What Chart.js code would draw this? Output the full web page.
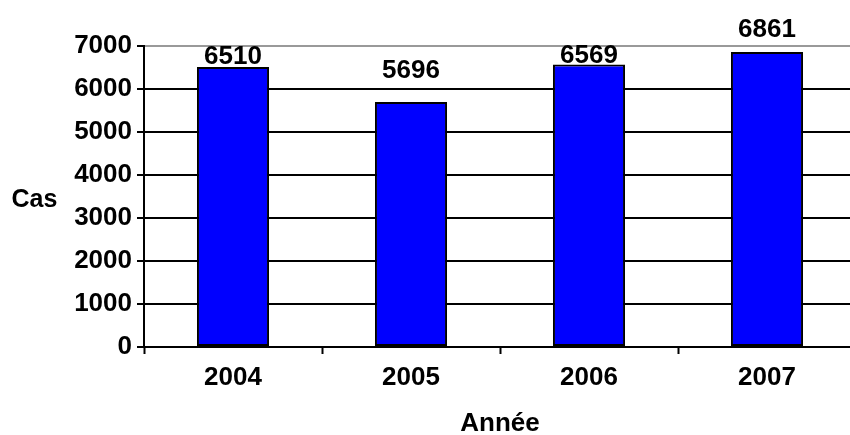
<!DOCTYPE html>
<html>
<head>
<meta charset="utf-8">
<script src="https://cdn.jsdelivr.net/npm/chart.js@4/dist/chart.umd.min.js"></script>
<style>
  html, body { margin: 0; padding: 0; background: #fff; overflow: hidden; }
  #wrap { width: 860px; height: 435px; }
</style>
</head>
<body>
<div id="wrap"><canvas id="chart" width="860" height="435"></canvas></div>
<script>
const years = ["2004", "2005", "2006", "2007"];
const cases = [6510, 5696, 6569, 6861];
const yTicks = [0, 1000, 2000, 3000, 4000, 5000, 6000, 7000];

// how far each value label sits above its bar, px
const labelGap = [3, 24, 2, 15];

const FONT = "'Liberation Sans', Arial, sans-serif";

const valueLabels = {
  id: "valueLabels",
  afterDatasetsDraw(chart) {
    const ctx = chart.ctx;
    const bars = chart.getDatasetMeta(0).data;
    ctx.save();
    ctx.font = "bold 26px " + FONT;
    ctx.fillStyle = "#000";
    ctx.textAlign = "center";
    ctx.textBaseline = "alphabetic";
    bars.forEach((bar, i) => {
      ctx.fillText(String(cases[i]), bar.x, bar.y - labelGap[i]);
    });
    ctx.restore();
  }
};

const sideTitle = {
  id: "sideTitle",
  afterDraw(chart) {
    const ctx = chart.ctx;
    ctx.save();
    ctx.font = "bold 25px " + FONT;
    ctx.fillStyle = "#000";
    ctx.textAlign = "center";
    ctx.textBaseline = "alphabetic";
    ctx.fillText("Cas", 34.5, 207);
    ctx.restore();
  }
};

new Chart(document.getElementById("chart"), {
  type: "bar",
  data: {
    labels: years,
    datasets: [{
      data: cases,
      backgroundColor: "#0000ff",
      borderColor: "#000",
      borderWidth: 2,
      borderSkipped: false,
      barPercentage: 0.405,
      categoryPercentage: 1
    }]
  },
  options: {
    responsive: false,
    animation: false,
    layout: { padding: { top: 46, right: 4, left: 0, bottom: 0 } },
    plugins: {
      legend: { display: false },
      tooltip: { enabled: false }
    },
    scales: {
      x: {
        offset: true,
        afterFit(scale) { scale.height = 88; },
        grid: {
          offset: true,
          drawOnChartArea: false,
          drawTicks: true,
          tickLength: 7,
          tickWidth: 2,
          tickColor: "#000"
        },
        border: { display: true, color: "#000", width: 2 },
        ticks: {
          color: "#000",
          padding: 8,
          font: { family: FONT, size: 26, weight: "bold" }
        },
        title: {
          display: true,
          text: "Année",
          color: "#000",
          padding: { top: 10, bottom: -4 },
          font: { family: FONT, size: 26, weight: "bold" }
        }
      },
      y: {
        min: 0,
        max: 7000,
        afterFit(scale) { scale.width = 144; },
        afterBuildTicks(scale) {
          scale.ticks = yTicks.map(v => ({ value: v }));
        },
        grid: {
          color: ctx => (ctx.tick && ctx.tick.value === 7000 ? "#999" : "#000"),
          lineWidth: 2,
          drawTicks: true,
          tickLength: 7,
          tickWidth: 2,
          tickColor: "#000"
        },
        border: { display: true, color: "#000", width: 2 },
        ticks: {
          color: "#000",
          padding: 5,
          callback: v => String(v),
          font: { family: FONT, size: 26, weight: "bold" }
        }
      }
    }
  },
  plugins: [valueLabels, sideTitle]
});
</script>
</body>
</html>
